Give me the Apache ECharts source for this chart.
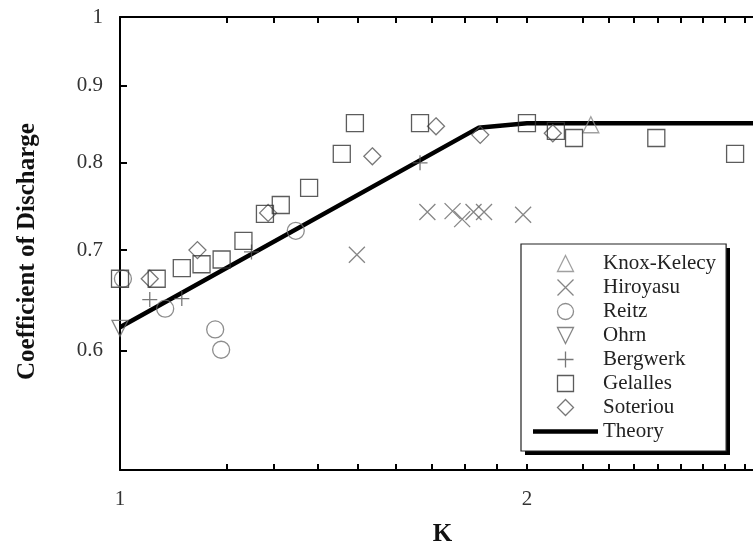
<!DOCTYPE html>
<html>
<head>
<meta charset="utf-8">
<script src="https://cdn.jsdelivr.net/npm/echarts@6/dist/echarts.min.js"></script>
<style>
html,body{margin:0;padding:0;background:#fff;}
#c{width:753px;height:544px;}
</style>
</head>
<body>
<div id="c"></div>
<script>
// ---- data (K, Coefficient of Discharge) ----
const knoxKelecy = [[2.23, 0.848]];
const hiroyasu = [[1.497, 0.695], [1.688, 0.742], [1.762, 0.743], [1.791, 0.734], [1.826, 0.742], [1.859, 0.742], [1.987, 0.739]];
const reitz = [[1.005, 0.670], [1.080, 0.640], [1.176, 0.620], [1.188, 0.601], [1.349, 0.721]];
const ohrn = [[1.0, 0.621]];
const bergwerk = [[1.052, 0.649], [1.111, 0.650], [1.251, 0.698], [1.667, 0.800]];
const gelalles = [[1.0, 0.670], [1.0645, 0.670], [1.111, 0.681], [1.149, 0.685], [1.189, 0.690], [1.234, 0.710],
                  [1.280, 0.740], [1.315, 0.750], [1.380, 0.770], [1.459, 0.811], [1.492, 0.850], [1.667, 0.850],
                  [2.0, 0.850], [2.101, 0.840], [2.167, 0.831], [2.493, 0.831], [2.851, 0.811]];
const soteriou = [[1.052, 0.670], [1.141, 0.700], [1.287, 0.741], [1.537, 0.808], [1.713, 0.846], [1.847, 0.835], [2.090, 0.837]];
const theory = [[1.0, 0.622], [1.841, 0.844], [2.0, 0.850], [3.0, 0.850]];

// ---- ticks / labels ----
const xTickValues = [1.2, 1.3, 1.4, 1.5, 1.6, 1.7, 1.8, 1.9, 2, 2.2, 2.3, 2.4, 2.5, 2.6, 2.7, 2.8, 2.9];
const xLabelValues = [1, 2, 3];
const yTickValues = [0.6, 0.7, 0.8, 0.9];
const yLabelValues = [0.6, 0.7, 0.8, 0.9, 1];
const legendNames = ['Knox-Kelecy', 'Hiroyasu', 'Reitz', 'Ohrn', 'Bergwerk', 'Gelalles', 'Soteriou', 'Theory'];

const FONT = 'Liberation Serif';
const SYM_X = 'path://M0,0L10,10M10,0L0,10';
const SYM_PLUS = 'path://M5,0L5,10M0,5L10,5';
const SYM_TRI_UP = 'path://M5,0L10,10L0,10Z';
const SYM_TRI_DOWN = 'path://M0,0L10,0L5,10Z';
const SYM_SQUARE = 'path://M0,0L10,0L10,10L0,10Z';
const SYM_DIAMOND = 'path://M5,0L10,5L5,10L0,5Z';

function mk(name, data, symbol, size, color) {
  return {
    name: name, type: 'scatter', data: data, symbol: symbol, symbolSize: size, clip: false,
    symbolKeepAspect: true,
    itemStyle: { color: 'rgba(0,0,0,0)', borderColor: color, borderWidth: 1.3 },
    emphasis: { disabled: true }, z: 3
  };
}

const chart = echarts.init(document.getElementById('c'));
const axisCommon = {
  type: 'log', logBase: 10,
  axisLine: { show: true, lineStyle: { color: '#000', width: 2 } },
  splitLine: { show: false },
  minorTick: { show: false }
};

const legendData = legendNames.map(function (n) {
  if (n === 'Theory') return { name: n, icon: 'path://M0,0L65,0L65,4.5L0,4.5Z', itemStyle: { color: '#000', borderWidth: 0 } };
  return { name: n };
});

chart.setOption({
  animation: false,
  backgroundColor: '#fff',
  grid: { left: 120, top: 17, width: 645, height: 453, outerBoundsMode: 'none', containLabel: false },
  graphic: [{
    type: 'rect', z: 3, silent: true,
    shape: { x: 525, y: 248, width: 205, height: 207 },
    style: { fill: '#000' }
  }],
  xAxis: [
    Object.assign({}, axisCommon, {
      position: 'bottom', min: 1, max: 3,
      axisTick: { show: true, inside: true, length: 6, lineStyle: { color: '#000', width: 2 }, customValues: xTickValues },
      axisLabel: { show: true, margin: 19, customValues: xLabelValues, formatter: v => String(v),
                   fontFamily: FONT, fontSize: 21, color: '#333' },
      name: 'K', nameLocation: 'middle', nameGap: 52,
      nameTextStyle: { fontFamily: FONT, fontSize: 25, fontWeight: 'bold', color: '#111' }
    }),
    Object.assign({}, axisCommon, {
      position: 'top', min: 1, max: 3,
      axisTick: { show: true, inside: true, length: 6, lineStyle: { color: '#000', width: 2 }, customValues: xTickValues },
      axisLabel: { show: false }
    })
  ],
  yAxis: Object.assign({}, axisCommon, {
    min: 0.5, max: 1,
    axisTick: { show: true, inside: true, length: 7, lineStyle: { color: '#000', width: 2 }, customValues: yTickValues },
    axisLabel: { show: true, margin: 17, customValues: yLabelValues, formatter: v => String(v),
                 fontFamily: FONT, fontSize: 21, color: '#333' },
    name: 'Coefficient of Discharge', nameLocation: 'middle', nameGap: 80,
    nameTextStyle: { fontFamily: FONT, fontSize: 25, fontWeight: 'bold', color: '#111', padding: [0, 16, 0, 0] }
  }),
  legend: {
    orient: 'vertical', left: 521, top: 244, padding: [9, 10, 9, 12], z: 6,
    itemWidth: 65, itemHeight: 16, itemGap: 3, symbolKeepAspect: true,
    backgroundColor: '#fff', borderColor: '#222', borderWidth: 1.2,
    textStyle: { fontFamily: FONT, fontSize: 21, lineHeight: 21, color: '#222' },
    itemStyle: { borderWidth: 1.3 },
    selectedMode: false,
    data: legendData
  },
  series: [
    { name: 'Theory', type: 'line', data: theory, showSymbol: false, symbol: 'none', clip: false,
      lineStyle: { color: '#000', width: 4.5 }, itemStyle: { color: '#000' }, emphasis: { disabled: true }, z: 2 },
    mk('Knox-Kelecy', knoxKelecy, SYM_TRI_UP, 16, '#888'),
    mk('Hiroyasu', hiroyasu, SYM_X, 16, '#666'),
    mk('Reitz', reitz, 'circle', 17, '#707070'),
    mk('Ohrn', ohrn, SYM_TRI_DOWN, 16, '#666'),
    mk('Bergwerk', bergwerk, SYM_PLUS, 15, '#555'),
    mk('Soteriou', soteriou, SYM_DIAMOND, 17, '#555'),
    mk('Gelalles', gelalles, SYM_SQUARE, 17, '#333')
  ]
});
</script>
</body>
</html>
